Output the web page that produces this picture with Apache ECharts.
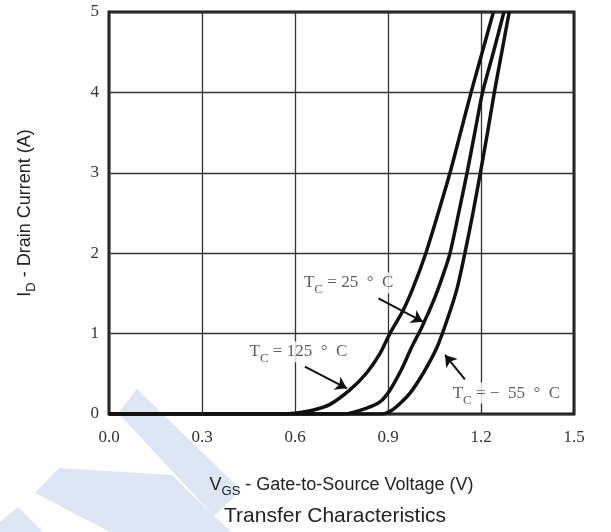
<!DOCTYPE html>
<html>
<head>
<meta charset="utf-8">
<script src="https://cdn.jsdelivr.net/npm/echarts@6/dist/echarts.min.js"></script>
<style>html,body{margin:0;padding:0;background:#fff;}#c{width:611px;height:532px;}</style>
</head>
<body>
<div id="c"></div>
<script>
// ---- data (VGS in V, ID in A) ----
const xTicks = [0.0, 0.3, 0.6, 0.9, 1.2, 1.5];
const yTicks = [0, 1, 2, 3, 4, 5];
const curve125 = [[0,0],[0.55,0],[0.60,0.01],[0.66,0.05],[0.713,0.12],[0.777,0.30],[0.831,0.51],[0.874,0.75],[0.906,1.0],[0.949,1.29],[0.982,1.58],[1.022,2.0],[1.062,2.5],[1.100,3.0],[1.134,3.5],[1.168,4.0],[1.204,4.5],[1.240,5.0]];
const curve25 = [[0,0],[0.76,0],[0.829,0.07],[0.874,0.15],[0.905,0.29],[0.943,0.55],[0.975,0.82],[1.009,1.08],[1.046,1.40],[1.075,1.70],[1.100,2.0],[1.128,2.5],[1.155,3.0],[1.180,3.5],[1.205,4.0],[1.240,4.5],[1.274,5.0]];
const curveM55 = [[0,0],[0.88,0],[0.905,0.03],[0.930,0.10],[0.971,0.26],[1.014,0.51],[1.057,0.82],[1.089,1.15],[1.122,1.55],[1.148,2.0],[1.174,2.5],[1.198,3.0],[1.221,3.5],[1.243,4.0],[1.267,4.5],[1.291,5.0]];
const labelTexts = ['T{s|C} = 25  \u00B0  C', 'T{s|C} = 125  \u00B0  C', 'T{s|C} = \u2212  55  \u00B0  C'];
const labelPos = [[0.773,1.63],[0.611,0.775],[1.282,0.26]];
const arrows = [
  [[0.869,1.439],[1.012,1.148]],
  [[0.632,0.589],[0.767,0.320]],
  [[1.148,0.431],[1.084,0.734]]
];
const xName = 'V{s|GS} - Gate-to-Source Voltage (V)';
const yName = 'I{s|D} - Drain Current (A)';
const titleText = 'Transfer Characteristics';

const chart = echarts.init(document.getElementById('c'), null, {renderer:'canvas'});
const serif = 'Liberation Serif';
const sans = 'Liberation Sans';
const wm = '#dee5f4';

const option = {
  animation: false,
  backgroundColor: '#fff',
  title: {
    text: titleText, left: 224, top: 506,
    textStyle: {fontFamily: sans, fontSize: 21, fontWeight: 'normal', color: '#222'},
    padding: 0
  },
  graphic: [
    {type:'polygon', z:-10, shape:{points:[[118,413],[137,389],[241,490],[214,516]]}, style:{fill:wm}},
    {type:'polygon', z:-10, shape:{points:[[59,468],[172,475],[214,516],[232,532],[110,532],[35,493]]}, style:{fill:wm}},
    {type:'polygon', z:-10, shape:{points:[[18,507],[43,532],[0,532],[0,522]]}, style:{fill:wm}}
  ],
  grid: {left:109, top:12, width:465, height:402, show:true, borderColor:'#1a1a1a', borderWidth:3, backgroundColor:'transparent'},
  xAxis: {
    type:'value', min:0, max:1.5, interval:0.3,
    name: xName, nameLocation:'middle', nameGap:62,
    nameTextStyle:{fontFamily:sans, fontSize:18, color:'#222', rich:{s:{fontFamily:sans, fontSize:13, color:'#222', verticalAlign:'bottom', padding:[0,0,-4,0]}}},
    axisLine:{show:false}, axisTick:{show:false},
    axisLabel:{formatter:(v)=>v.toFixed(1), fontFamily:serif, fontSize:17, color:'#333', margin:15},
    splitLine:{show:true, lineStyle:{color:'#333', width:1.3}}
  },
  yAxis: {
    type:'value', min:0, max:5, interval:1,
    name: yName, nameLocation:'middle', nameGap:75, nameRotate:90,
    nameTextStyle:{fontFamily:sans, fontSize:18, color:'#222', rich:{s:{fontFamily:sans, fontSize:13, color:'#222', verticalAlign:'bottom', padding:[0,0,-4,0]}}},
    axisLine:{show:false}, axisTick:{show:false},
    axisLabel:{fontFamily:serif, fontSize:17, color:'#333', margin:10},
    splitLine:{show:true, lineStyle:{color:'#333', width:1.3}}
  },
  series: [
    {type:'line', data:curve125, showSymbol:false, smooth:0.25, lineStyle:{color:'#111', width:3.5}, z:5},
    {type:'line', data:curve25, showSymbol:false, smooth:0.25, lineStyle:{color:'#111', width:3.5}, z:5},
    {type:'line', data:curveM55, showSymbol:false, smooth:0.25, lineStyle:{color:'#111', width:3.5}, z:5},
    {type:'lines', coordinateSystem:'cartesian2d', z:6,
     symbol:['none','arrow'], symbolSize:11,
     lineStyle:{color:'#111', width:2, opacity:1},
     data: arrows.map(a => ({coords:a}))},
    {type:'scatter', symbolSize:0, z:7,
     data: labelPos.map((p,i)=>({value:p, label:{formatter:labelTexts[i]}})),
     label:{show:true, position:'inside', fontFamily:serif, fontSize:17, color:'#333',
            backgroundColor:'#fff', padding:[2,3],
            rich:{s:{fontFamily:serif, fontSize:13, color:'#333', verticalAlign:'bottom', padding:[0,0,-5,0]}}}}
  ]
};
chart.setOption(option);
</script>
</body>
</html>
